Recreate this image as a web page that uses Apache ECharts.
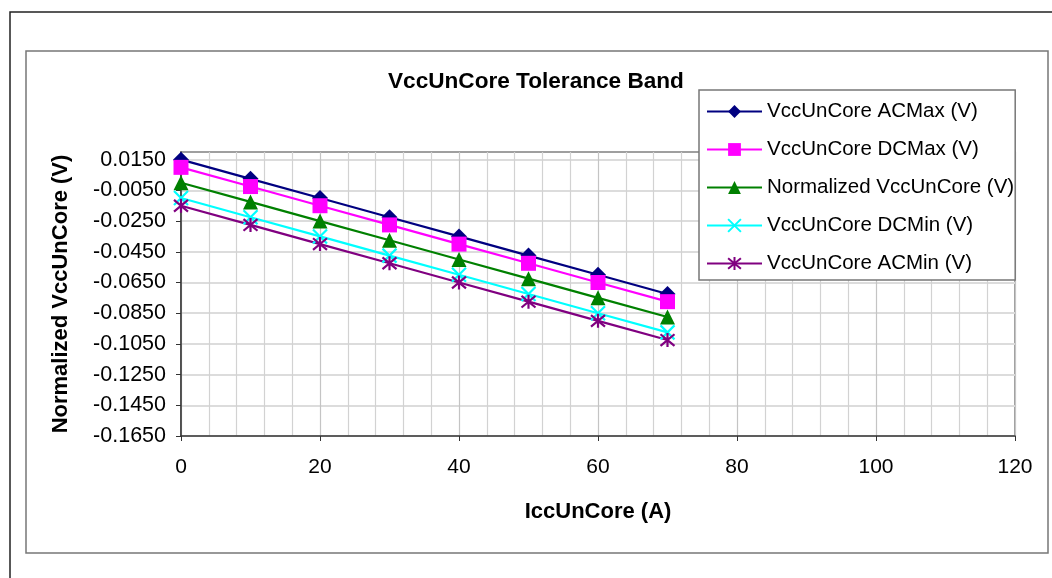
<!DOCTYPE html>
<html>
<head>
<meta charset="utf-8">
<script src="https://cdn.jsdelivr.net/npm/echarts@6/dist/echarts.min.js"></script>
<style>html,body{margin:0;padding:0;background:#fff;}#c{width:1052px;height:578px;}</style>
</head>
<body>
<div id="c"></div>
<script>
const xValues = [0, 10, 20, 30, 40, 50, 60, 70];
const acMax = [0.015, 0.0025, -0.01, -0.0225, -0.035, -0.0475, -0.06, -0.0725];
const dcMax = [0.01, -0.0025, -0.015, -0.0275, -0.04, -0.0525, -0.065, -0.0775];
const normalized = [0, -0.0125, -0.025, -0.0375, -0.05, -0.0625, -0.075, -0.0875];
const dcMin = [-0.01, -0.0225, -0.035, -0.0475, -0.06, -0.0725, -0.085, -0.0975];
const acMin = [-0.015, -0.0275, -0.04, -0.0525, -0.065, -0.0775, -0.09, -0.1025];
const yTicks = [0.015, -0.005, -0.025, -0.045, -0.065, -0.085, -0.105, -0.125, -0.145, -0.165];
const xTicks = [0, 20, 40, 60, 80, 100, 120];
const seriesNames = ['VccUnCore ACMax (V)', 'VccUnCore DCMax (V)', 'Normalized VccUnCore (V)', 'VccUnCore DCMin (V)', 'VccUnCore ACMin (V)'];
const seriesColors = ['#000080', '#FF00FF', '#008000', '#00FFFF', '#800080'];

const FONT = 'Liberation Sans, Arial, sans-serif';
const symbols = ['diamond', 'rect', 'triangle', 'path://M0,0L10,10M10,0L0,10', 'path://M0,0L10,10M10,0L0,10M5,-1L5,11'];
const allData = [acMax, dcMax, normalized, dcMin, acMin];

const series = allData.map((arr, i) => {
  const stroked = i >= 3;
  return {
    name: seriesNames[i],
    type: 'line',
    data: xValues.map((x, k) => [x, arr[k]]),
    symbol: symbols[i],
    symbolSize: stroked ? 14 : (i === 0 ? 16 : 15),
    lineStyle: { color: seriesColors[i], width: 2.2 },
    itemStyle: stroked
      ? { color: 'rgba(0,0,0,0)', borderColor: seriesColors[i], borderWidth: 2.2 }
      : { color: seriesColors[i], borderColor: seriesColors[i], borderWidth: 0 },
    emphasis: { disabled: true },
    animation: false
  };
});

const chart = echarts.init(document.getElementById('c'), null, { renderer: 'canvas' });
chart.setOption({
  animation: false,
  backgroundColor: '#fff',
  title: {
    text: 'VccUnCore Tolerance Band',
    left: 388, top: 70, padding: 0,
    textStyle: { fontFamily: FONT, fontSize: 22.6, fontWeight: 'bold', color: '#000' }
  },
  graphic: [
    { type: 'rect', shape: { x: 10, y: 12, width: 1100, height: 620 }, style: { fill: 'none', stroke: '#222', lineWidth: 1.5 }, z: -10, silent: true },
    { type: 'rect', shape: { x: 26, y: 51, width: 1022, height: 502 }, style: { fill: 'none', stroke: '#777', lineWidth: 1.5 }, z: -10, silent: true }
  ],
  legend: {
    orient: 'vertical',
    left: 699, top: 90,
    padding: [11, 1, 6, 7],
    itemWidth: 55, itemHeight: 16, itemGap: 17,
    backgroundColor: '#fff',
    borderColor: '#777', borderWidth: 1.5,
    textStyle: { fontFamily: FONT, fontSize: 20.5, color: '#000' },
    data: seriesNames
  },
  grid: { left: 181, right: 37, top: 152, bottom: 142, show: true, borderColor: '#808080', borderWidth: 1.5, backgroundColor: '#fff' },
  xAxis: {
    type: 'value', min: 0, max: 120, interval: 20,
    name: 'IccUnCore (A)', nameLocation: 'middle', nameGap: 65,
    nameTextStyle: { fontFamily: FONT, fontSize: 22, fontWeight: 'bold', color: '#000' },
    axisLine: { show: true, onZero: false, lineStyle: { color: '#333', width: 1.5 } },
    axisTick: { show: true, length: 5, lineStyle: { color: '#333' } },
    axisLabel: { fontFamily: FONT, fontSize: 21, color: '#000', margin: 21, customValues: xTicks },
    splitLine: { show: true, lineStyle: { color: '#c4c4c4', width: 1.2 } },
    minorTick: { show: false, splitNumber: 5 },
    minorSplitLine: { show: true, lineStyle: { color: '#d2d2d2', width: 1.2 } }
  },
  yAxis: {
    type: 'value', min: -0.165, max: 0.02, interval: 0.02,
    name: 'Normalized VccUnCore (V)', nameLocation: 'middle', nameGap: 109, nameRotate: 90,
    nameTextStyle: { fontFamily: FONT, fontSize: 22, fontWeight: 'bold', color: '#000' },
    axisLine: { show: true, onZero: false, lineStyle: { color: '#333', width: 1.5 } },
    axisTick: { show: true, length: 5, lineStyle: { color: '#333' }, customValues: yTicks },
    axisLabel: { fontFamily: FONT, fontSize: 21.5, color: '#000', margin: 15, customValues: yTicks,
      formatter: v => v.toFixed(4) },
    splitLine: { show: true, lineStyle: { color: '#dcdcdc', width: 2 } }
  },
  series: series
});
</script>
</body>
</html>
